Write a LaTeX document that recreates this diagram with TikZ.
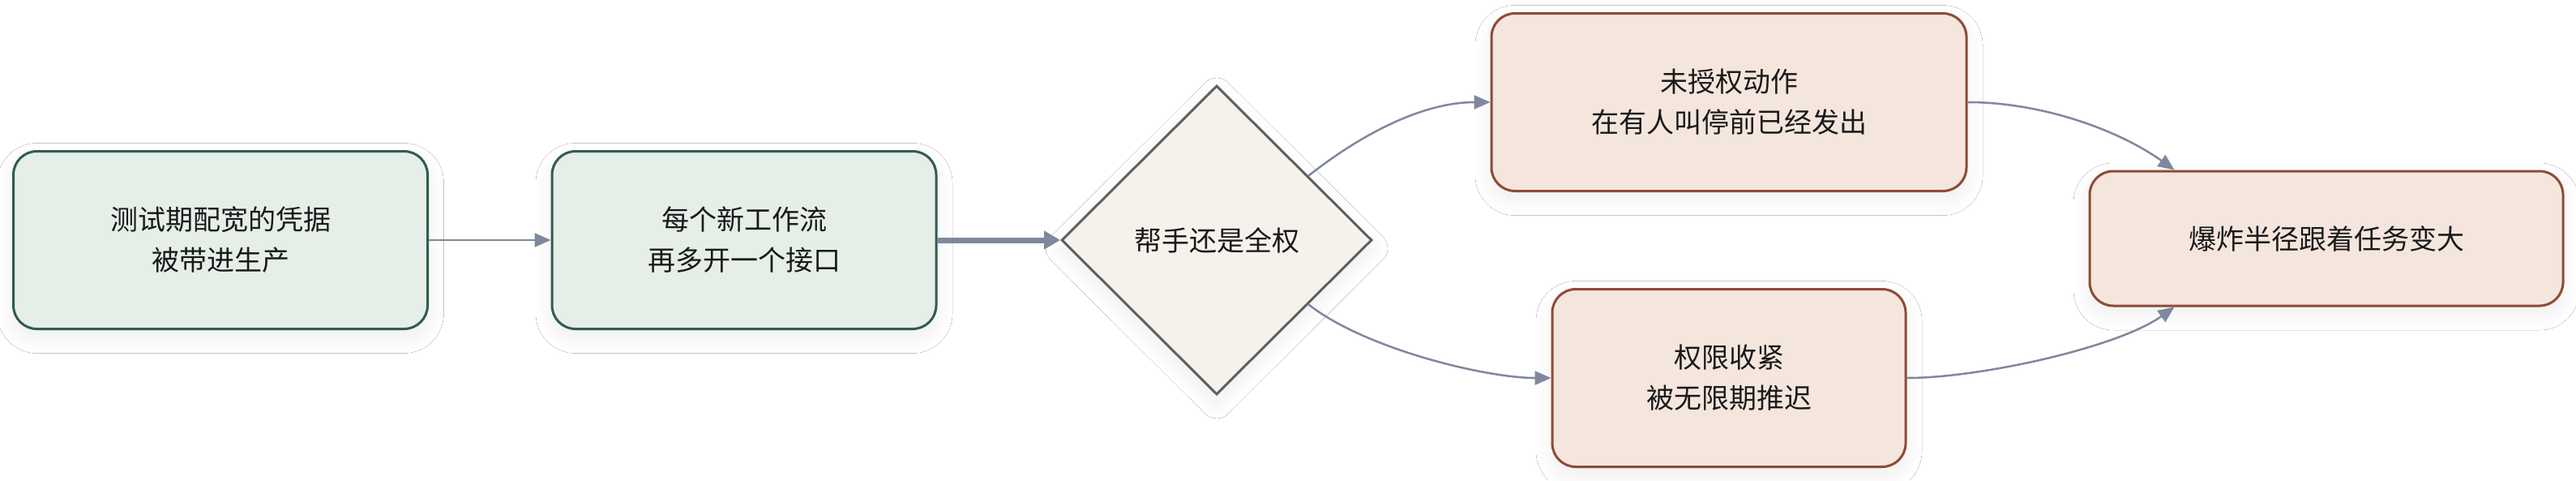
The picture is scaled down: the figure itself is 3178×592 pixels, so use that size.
\documentclass[tikz,border=0pt]{standalone}
\usepackage{fontspec}
\newfontfamily\cjk{Noto Sans CJK SC}
\usetikzlibrary{shapes.geometric,arrows.meta,shadows.blur,calc}
\definecolor{greenfill}{HTML}{E6EEE8}
\definecolor{greenline}{HTML}{2F5D50}
\definecolor{dfill}{HTML}{F6F2EB}
\definecolor{dline}{HTML}{5C635D}
\definecolor{ofill}{HTML}{F5E6DD}
\definecolor{oline}{HTML}{8E4B36}
\definecolor{edgec}{HTML}{7F889C}
\definecolor{txt}{HTML}{1A1A1A}
\tikzset{
  softshadow/.style={blur shadow={shadow xshift=0pt, shadow yshift=-10pt, shadow blur radius=20pt, shadow blur steps=20, shadow opacity=7}},
  box/.style={rectangle, rounded corners=29pt, line width=3pt, align=center,
    text=txt, font=\cjk\fontsize{34}{50}\selectfont, inner sep=0pt, softshadow},
  gbox/.style={box, draw=greenline, fill=greenfill},
  obox/.style={box, draw=oline, fill=ofill},
  dbox/.style={diamond, draw=dline, fill=dfill, line width=3pt, inner sep=0pt,
    text=txt, font=\cjk\fontsize{34}{50}\selectfont, softshadow},
  conn/.style={draw=edgec, line width=2.5pt, -{Triangle[length=20pt,width=17pt]}},
  thick conn/.style={draw=edgec, line width=7pt, -{Triangle[length=20pt,width=22pt]}}
}
\begin{document}
\begin{tikzpicture}[x=1pt,y=1pt]
\path[use as bounding box, fill=white] (0,0) rectangle (3178,-592);
\node[gbox, minimum width=511pt, minimum height=219pt] (A) at (272,-296) {测试期配宽的凭据\\被带进生产};
\node[gbox, minimum width=474pt, minimum height=219pt] (B) at (918,-296) {每个新工作流\\再多开一个接口};
\node[dbox, minimum width=383pt, minimum height=381pt] (C) at (1501,-296) {帮手还是全权};
\node[obox, minimum width=586pt, minimum height=219pt] (D) at (2133,-126) {未授权动作\\在有人叫停前已经发出};
\node[obox, minimum width=436pt, minimum height=219pt] (E) at (2133,-466) {权限收紧\\被无限期推迟};
\node[obox, minimum width=584pt, minimum height=166pt] (F) at (2870,-294) {爆炸半径跟着任务变大};
\coordinate (Ftop) at ([xshift=106pt]F.north west);
\coordinate (Fbot) at ([xshift=106pt]F.south west);
\draw[conn] (A.east) -- (B.west);
\draw[thick conn] (B.east) -- (C.west);
\draw[conn] (C.35) .. controls +(70,55) and +(-80,0) .. (D.west);
\draw[conn] (C.-35) .. controls +(70,-55) and +(-80,0) .. (E.west);
\draw[conn] (D.east) .. controls +(90,0) and +(-70,50) .. (Ftop);
\draw[conn] (E.east) .. controls +(90,0) and +(-70,-50) .. (Fbot);
\end{tikzpicture}
\end{document}
